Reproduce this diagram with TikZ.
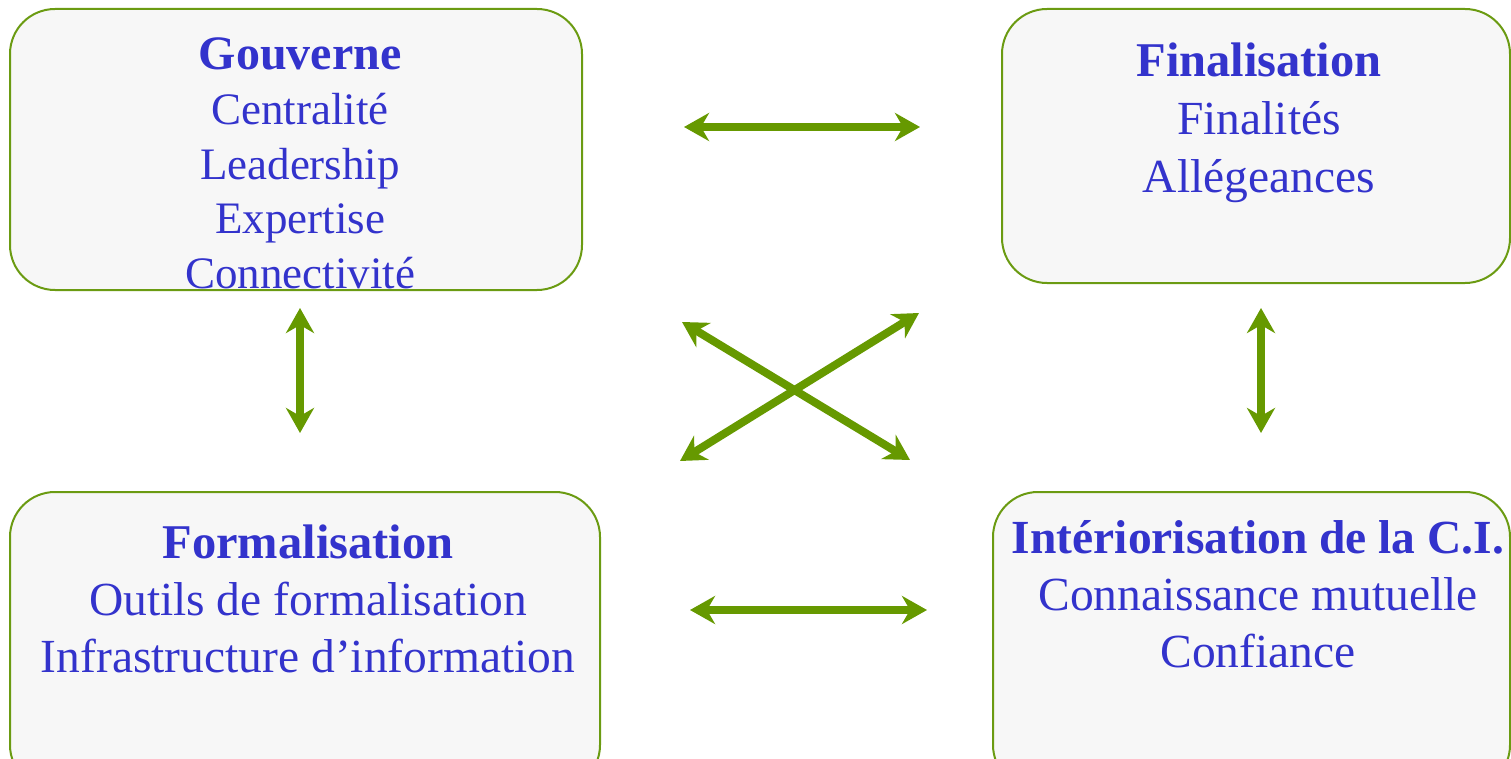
\documentclass[tikz,border=0pt]{standalone}
\usepackage{fontspec}
\setmainfont{Liberation Serif}
\usetikzlibrary{arrows.meta}
\definecolor{boxfill}{HTML}{F7F7F7}
\definecolor{boxline}{HTML}{6B9B12}
\definecolor{arrowgreen}{HTML}{669900}
\definecolor{txtblue}{HTML}{3333CC}
\tikzset{
  panel/.style={draw=boxline, line width=2pt, fill=boxfill, rounded corners=45pt},
  label/.style={text=txtblue, align=center, inner sep=0pt, anchor=base},
  link/.style={draw=arrowgreen, line width=8pt,
    {Stealth[length=25pt,width=28pt,inset=8pt]}-{Stealth[length=25pt,width=28pt,inset=8pt]}},
}
\begin{document}
\begin{tikzpicture}[x=1pt,y=-1pt]
\useasboundingbox (0,0) rectangle (1511,759);
\clip (0,0) rectangle (1511,759);

% the four panels
\path[panel] (10,9) rectangle (582,290);
\path[panel] (1002,9) rectangle (1510,283);
\path[panel] (10,492) rectangle (600,790);
\path[panel] (993,492) rectangle (1510,790);

% panel texts (anchored at the baseline of their last line)
\node[label, font=\fontsize{45}{54.5}\selectfont] (gov) at (300,288)
  {{\fontsize{48}{54.5}\selectfont\bfseries Gouverne}\\Centralité\\Leadership\\Expertise\\Connectivité};
\node[label, font=\fontsize{47.5}{58}\selectfont] (fin) at (1259,193)
  {{\fontsize{48.5}{58}\selectfont\bfseries Finalisation}\\Finalités\\Allégeances};
\node[label, font=\fontsize{47.5}{57}\selectfont] (form) at (308,672)
  {{\fontsize{48.5}{57}\selectfont\bfseries Formalisation}\\Outils de formalisation\\Infrastructure d’information};
\node[label, font=\fontsize{47.5}{57}\selectfont] (inter) at (1258,667)
  {\textbf{Intériorisation de la C.I.}\\Connaissance mutuelle\\Confiance};

% arrow end points
\coordinate (t1) at (684,127);  \coordinate (t2) at (920,127);
\coordinate (b1) at (690,610);  \coordinate (b2) at (927,610);
\coordinate (l1) at (300,308);  \coordinate (l2) at (300,433);
\coordinate (r1) at (1261,308); \coordinate (r2) at (1261,433);
\coordinate (d1) at (682,322);  \coordinate (d2) at (910,460);
\coordinate (e1) at (680,461);  \coordinate (e2) at (919,313);

% connectors
\draw[link] (t1) -- (t2);
\draw[link] (b1) -- (b2);
\draw[link] (l1) -- (l2);
\draw[link] (r1) -- (r2);
\draw[link] (d1) -- (d2);
\draw[link] (e1) -- (e2);
\end{tikzpicture}
\end{document}
